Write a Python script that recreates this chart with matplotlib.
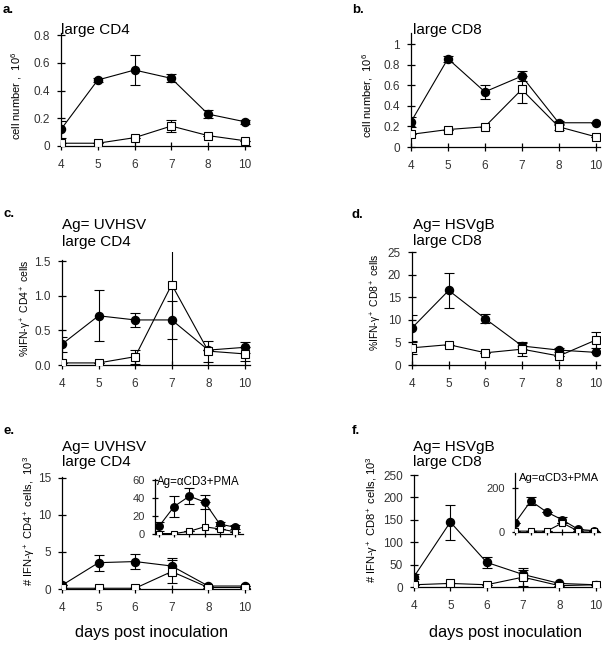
import matplotlib
matplotlib.use("Agg")
import matplotlib.pyplot as plt

plt.rcParams["font.family"] = ["Liberation Sans", "DejaVu Sans"]
plt.rcParams["mathtext.fontset"] = "custom"
plt.rcParams["mathtext.rm"] = "Liberation Sans"
plt.rcParams["mathtext.it"] = "Liberation Sans:italic"

W, H = 612, 647

days = ["4", "5", "6", "7", "8", "10"]

# a. large CD4, cell number (10^6)
a_fill = [0.12, 0.476, 0.548, 0.488, 0.23, 0.175]
a_fill_err = [0.06, 0.015, 0.105, 0.03, 0.03, 0.015]
a_open = [0.02, 0.02, 0.06, 0.144, 0.075, 0.038]
a_open_err = [0.0, 0.0, 0.0, 0.045, 0.0, 0.0]

# b. large CD8, cell number (10^6)
b_fill = [0.245, 0.86, 0.537, 0.69, 0.236, 0.236]
b_fill_err = [0.05, 0.03, 0.07, 0.05, 0.02, 0.0]
b_open = [0.123, 0.17, 0.197, 0.56, 0.197, 0.1]
b_open_err = [0.0, 0.0, 0.0, 0.13, 0.03, 0.0]

# c. Ag= UVHSV, large CD4, %IFN-g+
c_fill = [0.30, 0.71, 0.65, 0.65, 0.215, 0.255]
c_fill_err = [0.11, 0.365, 0.1, 0.27, 0.0, 0.08]
c_open = [0.03, 0.03, 0.12, 1.16, 0.2, 0.16]
c_open_err = [0.0, 0.0, 0.1, 1.3, 0.15, 0.1]

# d. Ag= HSVgB, large CD8, %IFN-g+
d_fill = [8.2, 16.5, 10.2, 4.2, 3.3, 2.8]
d_fill_err = [2.8, 3.9, 1.0, 0.6, 0.5, 0.0]
d_open = [3.8, 4.5, 2.7, 3.5, 2.0, 5.5]
d_open_err = [1.3, 0.0, 0.0, 1.5, 0.0, 1.8]

# e. Ag= UVHSV, large CD4, # IFN-g+ (10^3)
e_fill = [0.5, 3.55, 3.7, 3.1, 0.4, 0.4]
e_fill_err = [0.0, 1.1, 1.0, 1.1, 0.0, 0.0]
e_open = [0.1, 0.1, 0.1, 2.35, 0.2, 0.2]
e_open_err = [0.0, 0.0, 0.0, 1.6, 0.0, 0.0]

# e inset. Ag= aCD3+PMA
ei_fill = [8.5, 30.5, 42, 35.5, 11, 7.5]
ei_fill_err = [5, 12, 9, 8, 2.5, 2]
ei_open = [0.5, 0.5, 3, 8, 5.6, 2.5]
ei_open_err = [0, 0, 0, 28, 0, 0]

# f. Ag= HSVgB, large CD8, # IFN-g+ (10^3)
f_fill = [23, 145, 55, 28, 8, 5]
f_fill_err = [6, 39, 12, 10, 0, 0]
f_open = [5, 8, 5, 22, 3, 5]
f_open_err = [0, 0, 0, 20, 0, 0]

# f inset. Ag= aCD3+PMA
fi_fill = [41, 141, 91, 55, 12, 6]
fi_fill_err = [0, 20, 0, 15, 0, 0]
fi_open = [4, 4, 4, 41, 4, 5]
fi_open_err = [0, 0, 0, 0, 0, 0]


def box(left, top, right, bottom):
    return [left / W, 1 - bottom / H, (right - left) / W, (bottom - top) / H]


def ftext(x, y, s, **kw):
    fig.text(x / W, 1 - y / H, s, **kw)


def series(ax, fill, fill_err, opn, opn_err, ms=5.8):
    x = range(len(days))
    ax.errorbar(x, fill, yerr=fill_err, fmt="-o", color="black", mfc="black",
                mec="black", ms=ms, lw=0.8, elinewidth=0.8, capsize=3.4,
                capthick=0.8, zorder=3)
    ax.errorbar(x, opn, yerr=opn_err, fmt="-s", color="black", mfc="white",
                mec="black", mew=0.8, ms=ms - 0.4, lw=0.8, elinewidth=0.8,
                capsize=3.4, capthick=0.8, zorder=4)


def style(ax, xlim, ylim, yticks, ylabels, xlabels=True, fs=8.5):
    ax.set_facecolor("none")
    for s in ["top", "right"]:
        ax.spines[s].set_visible(False)
    ax.spines["left"].set_linewidth(0.9)
    ax.spines["bottom"].set_linewidth(0.9)
    ax.set_xlim(*xlim)
    ax.set_ylim(*ylim)
    ax.set_xticks(range(len(days)))
    ax.set_xticklabels(days if xlabels else [])
    ax.set_yticks(yticks)
    ax.set_yticklabels(ylabels)
    ax.tick_params(direction="inout", length=6, width=0.9, labelsize=fs,
                   colors="black", labelcolor="#333333")
    ax.tick_params(axis="x", pad=6.5)
    ax.tick_params(axis="y", pad=5)


fig = plt.figure(figsize=(W / 100, H / 100), dpi=100)

# a
ax = fig.add_axes(box(61, 33, 250, 146))
series(ax, a_fill, a_fill_err, a_open, a_open_err)
style(ax, (0, 5.14), (0, 0.815), [0, 0.2, 0.4, 0.6, 0.8],
      ["0", "0.2", "0.4", "0.6", "0.8"])

# b
ax = fig.add_axes(box(411, 33, 600, 147))
series(ax, b_fill, b_fill_err, b_open, b_open_err)
style(ax, (0, 5.12), (0, 1.11), [0, 0.2, 0.4, 0.6, 0.8, 1.0],
      ["0", "0.2", "0.4", "0.6", "0.8", "1"])

# c
ax = fig.add_axes(box(62, 252, 250, 365))
series(ax, c_fill, c_fill_err, c_open, c_open_err)
style(ax, (0, 5.14), (0, 1.63), [0, 0.5, 1.0, 1.5],
      ["0.0", "0.5", "1.0", "1.5"])
ax.spines["left"].set_bounds(0, 1.52)

# d
ax = fig.add_axes(box(412, 252, 600, 365))
series(ax, d_fill, d_fill_err, d_open, d_open_err)
style(ax, (0, 5.12), (0, 25), [0, 5, 10, 15, 20, 25],
      ["0", "5", "10", "15", "20", "25"])

# e
ax = fig.add_axes(box(62, 477, 250, 589))
series(ax, e_fill, e_fill_err, e_open, e_open_err)
style(ax, (0, 5.14), (0, 15.1), [0, 5, 10, 15], ["0", "5", "10", "15"])

ax = fig.add_axes(box(155, 479, 243, 534))
series(ax, ei_fill, ei_fill_err, ei_open, ei_open_err, ms=5.4)
style(ax, (-0.26, 5.53), (0, 61), [0, 20, 40, 60], ["0", "20", "40", "60"],
      xlabels=False, fs=8)
ax.tick_params(length=5)

# f
ax = fig.add_axes(box(414, 475, 600, 587))
series(ax, f_fill, f_fill_err, f_open, f_open_err)
style(ax, (0, 5.12), (0, 250), [0, 50, 100, 150, 200, 250],
      ["0", "50", "100", "150", "200", "250"])

ax = fig.add_axes(box(515, 473, 600, 532))
series(ax, fi_fill, fi_fill_err, fi_open, fi_open_err, ms=5.4)
style(ax, (0, 5.38), (0, 268), [0, 200], ["0", "200"], xlabels=False, fs=8)
ax.tick_params(length=5)

# panel letters
for lbl, x, y in [("a.", 3, 10), ("b.", 352, 10), ("c.", 3, 214),
                  ("d.", 352, 215), ("e.", 3, 431), ("f.", 352, 431)]:
    ftext(x, y, lbl, fontsize=9.5, fontweight="bold", va="center", ha="left")

# titles
tfs = 11
ftext(61, 30, "large CD4", fontsize=tfs, va="center")
ftext(413, 30, "large CD8", fontsize=tfs, va="center")
ftext(62, 225, "Ag= UVHSV", fontsize=tfs, va="center")
ftext(62, 242, "large CD4", fontsize=tfs, va="center")
ftext(413, 225, "Ag= HSVgB", fontsize=tfs, va="center")
ftext(413, 241, "large CD8", fontsize=tfs, va="center")
ftext(62, 447, "Ag= UVHSV", fontsize=tfs, va="center")
ftext(62, 462, "large CD4", fontsize=tfs, va="center")
ftext(413, 447, "Ag= HSVgB", fontsize=tfs, va="center")
ftext(413, 462, "large CD8", fontsize=tfs, va="center")
ftext(157, 482, "Ag=\u03b1CD3+PMA", fontsize=8.3, va="center")
ftext(519, 478, "Ag=\u03b1CD3+PMA", fontsize=8.1, va="center")

# y labels
yfs = 8
ftext(17, 96, "cell number ,  10$^6$", fontsize=yfs, rotation=90,
      ha="center", va="center")
ftext(368, 95, "cell number,  10$^6$", fontsize=yfs, rotation=90,
      ha="center", va="center")
ftext(26, 308, "%IFN-\u03b3$^+$ CD4$^+$ cells", fontsize=7.5, rotation=90,
      ha="center", va="center")
ftext(376, 302, "%IFN-\u03b3$^+$ CD8$^+$ cells", fontsize=7.5, rotation=90,
      ha="center", va="center")
ftext(29, 521, "# IFN-\u03b3$^+$ CD4$^+$ cells,  10$^3$", fontsize=yfs,
      rotation=90, ha="center", va="center")
ftext(372, 520, "# IFN-\u03b3$^+$ CD8$^+$ cells, 10$^3$", fontsize=yfs,
      rotation=90, ha="center", va="center")

# x labels
ftext(152, 632, "days post inoculation", fontsize=11.8, ha="center",
      va="center")
ftext(506, 632, "days post inoculation", fontsize=11.8, ha="center",
      va="center")

fig.savefig("out.png", dpi=100)
